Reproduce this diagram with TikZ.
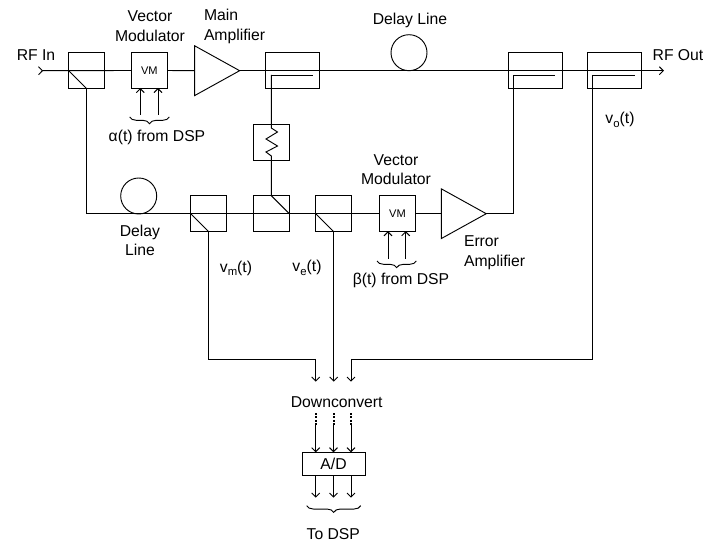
\documentclass[tikz,border=0pt]{standalone}
\usepackage{fontspec}
\setmainfont{Liberation Sans}
\usetikzlibrary{arrows.meta,shapes.geometric,decorations.pathreplacing}

\newcommand{\lowsub}[1]{\raisebox{-2.5pt}{\fontsize{8.5}{10}\selectfont #1}}

\begin{document}
\begin{tikzpicture}
  [x=0.75pt, y=-0.75pt, line width=0.7pt,
   >={Straight Barb[length=3pt,width=6pt]},
   pnode/.style={minimum size=0, inner sep=0, outer sep=0},
   lbl/.style={pnode, font=\fontsize{11.8}{14.6}\selectfont, align=center},
   box/.style={pnode, draw, minimum size=27pt},
   widebox/.style={box, minimum width=40.5pt},
   vmbox/.style={box, font=\fontsize{8.3}{10}\selectfont},
   delay/.style={pnode, draw, circle, minimum size=27pt},
   amp/.style={pnode, draw, isosceles triangle, isosceles triangle apex angle=57.8,
               isosceles triangle stretches, minimum width=37.3pt, minimum height=33.7pt,
               anchor=lower side},
   curly/.style={decorate, decoration={brace, mirror, amplitude=5pt}}]

  \useasboundingbox (0,0) rectangle (717,541);

  % upper branch
  \node[pnode] (rfin) at (38,70.7) {};
  \node[box] (split) at (86.5,70.5) {};
  \node[vmbox] (vma) at (149.3,70.5) {VM};
  \node[amp] (mainamp) at (194.7,70.7) {};
  \node[widebox] (ca) at (292.5,70.5) {};
  \node[delay] (dla) at (409,52.7) {};
  \node[widebox] (cb) at (535,70.5) {};
  \node[widebox] (cc) at (614.3,70.5) {};
  \node[pnode] (rfout) at (664,70.7) {};

  \draw[{Straight Barb[length=3pt,width=6pt,reversed]}-] (rfin) -- (vma.west);
  \draw (vma.east) -- (mainamp.lower side);
  \draw[->] (mainamp.apex) -- (rfout);
  \draw (split.west) -- (split.south);

  % couplers' inner lines
  \node[pnode] (taa) at (271.3,75) {};
  \node[pnode] (tae) at (313.3,75) {};
  \node[pnode] (tbb) at (513.3,75) {};
  \node[pnode] (tbe) at (555,75) {};
  \node[pnode] (tcc) at (592.3,75) {};
  \node[pnode] (tce) at (634.7,75) {};
  \draw (taa) -- (tae);
  \draw (tbb) -- (tbe);
  \draw (tcc) -- (tce);

  % lower branch
  \node[delay] (dlb) at (138.7,196) {};
  \node[box] (cm) at (208.7,213.7) {};
  \node[box] (cs) at (271.3,213.7) {};
  \node[box] (ce) at (333.7,213.7) {};
  \node[vmbox] (vmb) at (397.5,213.7) {VM};
  \node[amp] (erramp) at (441.3,213.7) {};

  \draw (split.south) |- (cm.west) -- (vmb.west);
  \draw (vmb.east) -- (erramp.lower side);
  \draw (erramp.apex) -| (tbb);
  \draw (cm.west) -- (cm.south);
  \draw (cs.north) -- (cs.east);
  \draw (ce.west) -- (ce.south);

  % resistor
  \node[box] (res) at (271.3,142.5) {};
  \draw (taa) -- (271.3,128) -- (277.5,132) -- (266,139) -- (277.5,146)
    -- (266,152) -- (271.3,156) -- (res.south) -- (cs.north);

  % vector modulator controls
  \node[pnode] (aa) at (140.3,115) {};
  \node[pnode] (ab) at (158,115) {};
  \node[pnode] (aat) at (140.3,88) {};
  \node[pnode] (abt) at (158,88) {};
  \draw[->] (aa) -- (aat);
  \draw[->] (ab) -- (abt);
  \node[pnode] (bra) at (129.7,117) {};
  \node[pnode] (brb) at (169.3,117) {};
  \draw[curly] (bra) -- (brb);

  \node[pnode] (ba) at (388,259) {};
  \node[pnode] (bb) at (405.7,259) {};
  \node[pnode] (bat) at (388,231.2) {};
  \node[pnode] (bbt) at (405.7,231.2) {};
  \draw[->] (ba) -- (bat);
  \draw[->] (bb) -- (bbt);
  \node[pnode] (brc) at (377,261) {};
  \node[pnode] (brd) at (416.3,261) {};
  \draw[curly] (brc) -- (brd);

  % to the downconverter
  \node[pnode] (dl) at (315.7,381.7) {};
  \node[pnode] (dm) at (333.7,381.7) {};
  \node[pnode] (dr) at (351,381.7) {};
  \node[pnode] (jl) at (315.7,359) {};
  \node[pnode] (jr) at (351,359) {};
  \draw[->] (cm.south) |- (jl) -- (dl);
  \draw[->] (ce.south) -- (dm);
  \draw[->] (tcc) |- (jr) -- (dr);

  \node[lbl] (down) at (336.7,401.7) {Downconvert};

  % A/D
  \node[pnode, draw, minimum width=47.25pt, minimum height=17pt, font=\fontsize{11.8}{14.6}\selectfont] (ad) at (333.5,463.7) {A/D};
  \node[pnode] (ql) at (315.7,413) {};
  \node[pnode] (qm) at (333.5,413) {};
  \node[pnode] (qr) at (351,413) {};
  \node[pnode] (rl) at (315.7,425) {};
  \node[pnode] (rm) at (333.5,425) {};
  \node[pnode] (rr) at (351,425) {};
  \node[pnode] (sl) at (315.7,452.3) {};
  \node[pnode] (sm) at (333.5,452.3) {};
  \node[pnode] (sr) at (351,452.3) {};
  \node[pnode] (tl) at (315.7,475) {};
  \node[pnode] (tm) at (333.5,475) {};
  \node[pnode] (tr) at (351,475) {};
  \node[pnode] (ul) at (315.7,497.7) {};
  \node[pnode] (um) at (333.5,497.7) {};
  \node[pnode] (ur) at (351,497.7) {};

  \tikzset{dotty/.style={line width=1.5pt, dash pattern=on 1.5pt off 1.1pt}}
  \draw[dotty] (ql) -- (rl);
  \draw[dotty] (qm) -- (rm);
  \draw[dotty] (qr) -- (rr);
  \draw[->] (rl) -- (sl);
  \draw[->] (rm) -- (sm);
  \draw[->] (rr) -- (sr);
  \draw[->] (tl) -- (ul);
  \draw[->] (tm) -- (um);
  \draw[->] (tr) -- (ur);
  \node[pnode] (bre) at (306.7,505.7) {};
  \node[pnode] (brf) at (360.7,505.7) {};
  \draw[curly] (bre) -- (brf);

  % labels
  \node[lbl] (lrfin) at (36,55) {RF In};
  \node[lbl] (lvma) at (150,26.3) {Vector\\Modulator};
  \node[lbl, align=left, anchor=west] (lmain) at (204,26.3) {Main\\Amplifier};
  \node[lbl] (lalpha) at (157,137) {α(t) from DSP};
  \node[lbl] (ldla) at (410,20) {Delay Line};
  \node[lbl] (lrfout) at (678,55) {RF Out};
  \node[lbl] (lvo) at (620,120) {v\lowsub{o}(t)};
  \node[lbl] (ldlb) at (140,240.5) {Delay\\Line};
  \node[lbl] (lvm) at (236,268) {v\lowsub{m}(t)};
  \node[lbl] (lve) at (307,268) {v\lowsub{e}(t)};
  \node[lbl] (lvmb) at (396,169.5) {Vector\\Modulator};
  \node[lbl, align=left, anchor=west] (lerr) at (464,252.5) {Error\\Amplifier};
  \node[lbl] (lbeta) at (401,280.7) {β(t) from DSP};
  \node[lbl] (ldsp) at (333.3,534) {To DSP};

\end{tikzpicture}
\end{document}
